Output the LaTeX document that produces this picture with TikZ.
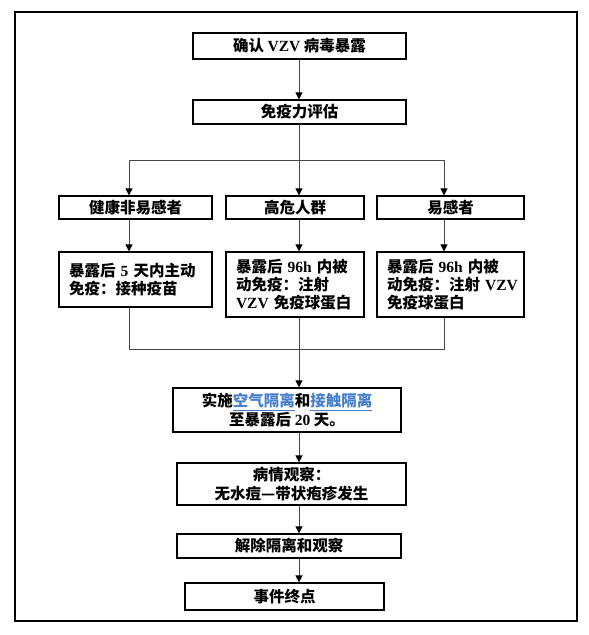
\documentclass[tikz,border=0pt]{standalone}
\usepackage{fontspec}
\setmainfont{Noto Sans CJK SC}
\newfontfamily\latinfont{Liberation Serif}
\usepackage{xcolor}
\usetikzlibrary{arrows.meta, positioning}
\definecolor{linkblue}{RGB}{70,125,205}
\definecolor{linegray}{RGB}{70,70,70}
\newcommand{\lat}[1]{{\latinfont\bfseries #1}}
\newcommand{\link}[1]{\textcolor{linkblue}{\underline{#1}}}

\begin{document}
\begin{tikzpicture}[
  x=1pt, y=-1pt,
  block/.style={draw, line width=1.2pt, inner sep=0pt, align=center,
                font=\fontsize{15.5}{18.3}\selectfont\bfseries},
  textblock/.style={block, align=left, inner xsep=10pt, text width=#1},
  line/.style={line width=1pt, linegray},
  arrow/.style={line, -{Triangle[width=7pt,length=7pt,color=black]}}
]
\useasboundingbox (0,0) rectangle (589,635);
\draw[line width=1.3pt] (15,12) rectangle (577,621);

% Top: exposure and assessment
\node[block, minimum width=213pt, minimum height=26pt] (confirm) at (299.5,46) {确认 \lat{VZV} 病毒暴露};
\node[block, minimum width=213pt, minimum height=24pt] (assess) at (299.5,112) {免疫力评估};

% Row 1: groups
\node[block, minimum width=153pt, minimum height=23pt] (healthy) at (135.5,207.5) {健康非易感者};
\node[block, minimum width=138pt, minimum height=23pt] (highrisk) at (295,207.5) {高危人群};
\node[block, minimum width=147pt, minimum height=23pt] (suscept) at (450.5,207.5) {易感者};

% Row 2: immunisation
\node[textblock=133pt, minimum height=55pt] (active) at (135.5,279.5) {暴露后 \lat{5} 天内主动\\免疫：接种疫苗};
\node[textblock=118pt, minimum height=65pt] (passiveA) at (295,284.5) {暴露后 \lat{96h} 内被\\动免疫：注射\\\lat{VZV} 免疫球蛋白};
\node[textblock=127pt, minimum height=65pt] (passiveB) at (450.5,284.5) {暴露后 \lat{96h} 内被\\动免疫：注射~\lat{VZV}\\免疫球蛋白};

% Bottom column
\node[block, minimum width=228pt, minimum height=44pt] (isolate) at (287,410) {实施\link{空气隔离}和\link{接触隔离}\\至暴露后 \lat{20} 天。};
\node[block, minimum width=229pt, minimum height=42pt] (observe) at (291.5,484) {病情观察：\\无水痘—带状疱疹发生};
\node[block, minimum width=224pt, minimum height=24pt] (release) at (289,546) {解除隔离和观察};
\node[block, minimum width=199pt, minimum height=27pt] (endpt) at (284.5,596.5) {事件终点};

% Connectors
\coordinate (spine) at (299,124);
\coordinate (forkL) at (129,160);
\coordinate (forkR) at (444,160);
\coordinate (joinL) at (129,349);
\coordinate (joinR) at (444,349);

\draw[arrow] (confirm.south -| spine) -- (assess.north -| spine);
\draw[arrow] (spine) -- (spine |- highrisk.north);
\draw[line] (forkL) -- (forkR);
\draw[arrow] (forkL) -- (forkL |- healthy.north);
\draw[arrow] (forkR) -- (forkR |- suscept.north);
\draw[arrow] (forkL |- healthy.south) -- (forkL |- active.north);
\draw[arrow] (spine |- highrisk.south) -- (spine |- passiveA.north);
\draw[arrow] (forkR |- suscept.south) -- (forkR |- passiveB.north);
\draw[line] (joinL |- active.south) -- (joinL) -- (joinR) -- (joinR |- passiveB.south);
\draw[arrow] (spine |- passiveA.south) -- (spine |- isolate.north);
\draw[arrow] (spine |- isolate.south) -- (spine |- observe.north);
\draw[arrow] (spine |- observe.south) -- (spine |- release.north);
\draw[arrow] (spine |- release.south) -- (spine |- endpt.north);

\end{tikzpicture}
\end{document}
